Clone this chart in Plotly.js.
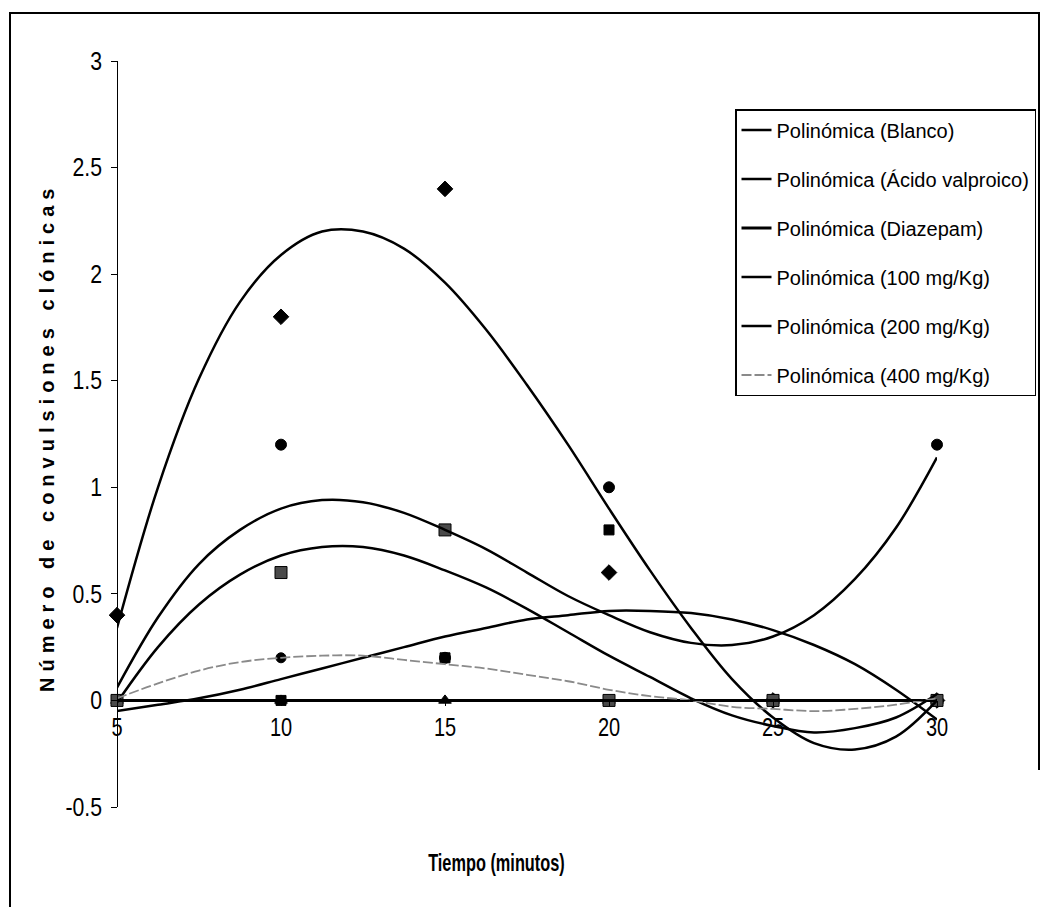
<!DOCTYPE html>
<html>
<head>
<meta charset="utf-8">
<script src="https://cdn.plot.ly/plotly-3.0.1.min.js"></script>
<style>
html, body { margin: 0; padding: 0; background: #ffffff; }
#chart { width: 1045px; height: 907px; }
</style>
</head>
<body>
<div id="chart"></div>
<script>
// ---- Data ----
const markerX = [5, 10, 15, 20, 25, 30];
const blancoPts = [0.4, 1.8, 2.4, 0.6, 0, 0];
const valproicoPts = [0, 0.6, 0.8, 0, 0, 0];
const diazepamPts = [0, 0, 0, 0, 0, 0];
const mg100Pts = [0, 1.2, 0.2, 1.0, 0, 1.2];
const mg200Pts = [0, 0, 0.2, 0.8, 0, 0];
const mg400Pts = [0, 0.2, 0.2, 0, 0, 0];

// trendline (Polinómica) values
const trendX = [5, 6.25, 7.5, 8.75, 10, 11.25, 12.5, 13.75, 15, 16.25, 17.5,
                18.75, 20, 21.25, 22.5, 23.75, 25, 26.25, 27.5, 28.75, 30];
const blancoFit = [0.34, 1.0, 1.51, 1.87, 2.09, 2.2, 2.2, 2.12, 1.96, 1.74, 1.48,
                   1.2, 0.9, 0.61, 0.34, 0.1, -0.08, -0.2, -0.23, -0.17, 0.0];
const valproicoFit = [-0.01, 0.25, 0.45, 0.59, 0.68, 0.72, 0.72, 0.68, 0.61, 0.53, 0.43,
                      0.32, 0.21, 0.11, 0.01, -0.07, -0.12, -0.15, -0.13, -0.08, 0.03];
const diazepamFit = [0, 0, 0, 0, 0, 0, 0, 0, 0, 0, 0, 0, 0, 0, 0, 0, 0, 0, 0, 0, 0];
const mg100Fit = [0.06, 0.39, 0.64, 0.8, 0.9, 0.94, 0.93, 0.88, 0.8, 0.71, 0.6,
                  0.49, 0.4, 0.32, 0.27, 0.26, 0.3, 0.4, 0.57, 0.81, 1.14];
const mg200Fit = [-0.05, -0.02, 0.01, 0.05, 0.1, 0.15, 0.2, 0.25, 0.3, 0.34, 0.38,
                  0.4, 0.42, 0.42, 0.41, 0.38, 0.33, 0.26, 0.17, 0.05, -0.09];
const mg400Fit = [0.01, 0.08, 0.14, 0.18, 0.2, 0.21, 0.21, 0.19, 0.17, 0.15, 0.12,
                  0.09, 0.05, 0.02, 0.0, -0.03, -0.04, -0.05, -0.04, -0.02, 0.01];

const legendNames = [
  'Polinómica (Blanco)',
  'Polinómica (Ácido valproico)',
  'Polinómica (Diazepam)',
  'Polinómica (100 mg/Kg)',
  'Polinómica (200 mg/Kg)',
  'Polinómica (400 mg/Kg)'
];
const yTickVals = [-0.5, 0, 0.5, 1, 1.5, 2, 2.5, 3];
const yTickText = ['-0.5', '0', '0.5', '1', '1.5', '2', '2.5', '3'];
const xTickVals = [5, 10, 15, 20, 25, 30];
const xTickText = ['5', '10', '15', '20', '25', '30'];

const sans = 'Liberation Sans, Arial, sans-serif';

function fitTrace(y, name, i, color, width, dash) {
  return {
    x: trendX, y: y, name: name, type: 'scatter', mode: 'lines',
    line: { color: color, width: width, shape: 'spline', smoothing: 1, dash: dash || 'solid' },
    legendgroup: 'g' + i, showlegend: true, cliponaxis: false, hoverinfo: 'skip'
  };
}
function ptsTrace(y, symbol, size, fill) {
  return {
    x: markerX, y: y, type: 'scatter', mode: 'markers', showlegend: false,
    cliponaxis: false, hoverinfo: 'skip',
    marker: { symbol: symbol, size: size, color: fill, line: { color: '#000', width: 1 } }
  };
}

const traces = [
  ptsTrace(blancoPts, 'diamond', 12, '#000'),
  ptsTrace(diazepamPts, 'triangle-up', 11, '#000'),
  ptsTrace(mg100Pts, 'circle', 11, '#000'),
  ptsTrace(mg400Pts, 'circle', 10, '#000'),
  ptsTrace(mg200Pts, 'square', 10, '#000'),
  ptsTrace(valproicoPts, 'square', 12, '#4a4a4a'),
  fitTrace(blancoFit, legendNames[0], 0, '#000', 2.5),
  fitTrace(valproicoFit, legendNames[1], 1, '#000', 2.5),
  fitTrace(diazepamFit, legendNames[2], 2, '#000', 3),
  fitTrace(mg100Fit, legendNames[3], 3, '#000', 2.5),
  fitTrace(mg200Fit, legendNames[4], 4, '#000', 2.5),
  fitTrace(mg400Fit, legendNames[5], 5, '#8a8a8a', 1.8, '10px,3px')
];

// plot area in pixels: x 117..937, y 61..807
const L = 117, R = 937, T = 61, B = 807;
const px = v => (v - L) / (R - L);
const py = v => (B - v) / (B - T);

const layout = {
  width: 1045, height: 907,
  margin: { l: L, r: 1045 - R, t: T, b: 907 - B, pad: 0, autoexpand: false },
  paper_bgcolor: '#fff', plot_bgcolor: '#fff',
  font: { family: sans, color: '#000', size: 20 },
  showlegend: true,
  xaxis: {
    range: [5, 30], tickvals: xTickVals, ticktext: xTickText,
    showgrid: false, zeroline: false, showline: true, linecolor: '#000', linewidth: 1,
    ticks: 'outside', ticklen: 5, tickcolor: '#000', tickwidth: 1,
    anchor: 'free', position: 0.5 / 3.5, ticklabelstandoff: 0,
    tickfont: { family: sans, size: 25, color: '#000' }
  },
  yaxis: {
    range: [-0.5, 3], tickvals: yTickVals, ticktext: yTickText,
    showgrid: false, zeroline: false, showline: true, linecolor: '#000', linewidth: 1,
    ticks: 'outside', ticklen: 6, tickcolor: '#000', tickwidth: 1,
    anchor: 'free', position: 0, ticklabelstandoff: 4,
    tickfont: { family: sans, size: 25, color: '#000' }
  },
  legend: {
    x: px(735), y: py(109), xanchor: 'left', yanchor: 'top',
    bgcolor: '#fff', bordercolor: '#000', borderwidth: 1.5,
    font: { family: sans, size: 20, color: '#000' },
    traceorder: 'grouped', tracegroupgap: 20, itemwidth: 30
  },
  annotations: [
    {
      text: 'Tiempo (minutos)', xref: 'paper', yref: 'paper',
      x: px(496), y: py(862), xanchor: 'center', yanchor: 'middle', showarrow: false,
      font: { family: sans, size: 24, color: '#000', weight: 'bold' }
    },
    {
      text: 'Número de convulsiones clónicas', xref: 'paper', yref: 'paper',
      x: px(47), y: py(438), xanchor: 'center', yanchor: 'middle', showarrow: false,
      textangle: -90,
      font: { family: sans, size: 20, color: '#000', weight: 'bold' }
    }
  ],
  shapes: [
    {
      type: 'path', xref: 'paper', yref: 'paper',
      path: 'M ' + px(10) + ' ' + py(907) + ' L ' + px(10) + ' ' + py(13) +
            ' L ' + px(1039) + ' ' + py(13) + ' L ' + px(1039) + ' ' + py(770),
      line: { color: '#000', width: 2 }
    }
  ]
};

// narrow the look of text (the original uses a condensed face)
function squeeze(el, sx, anchor) {
  const bb = el.getBBox();
  const cx = anchor === 'right' ? bb.x + bb.width : bb.x + bb.width / 2;
  const cy = bb.y + bb.height / 2;
  const t = el.getAttribute('transform') || '';
  el.setAttribute('transform', t + ' translate(' + cx + ',' + cy + ') scale(' + sx + ',1) translate(' + (-cx) + ',' + (-cy) + ')');
}

Plotly.newPlot('chart', traces, layout, { displayModeBar: false, staticPlot: true }).then(function () {
  document.querySelectorAll('.xtick text').forEach(function (el) { squeeze(el, 0.8, 'center'); });
  document.querySelectorAll('.ytick text').forEach(function (el) { squeeze(el, 0.85, 'right'); });
  document.querySelectorAll('.annotation-text').forEach(function (el) {
    if (el.textContent.indexOf('Número') === 0) {
      el.style.letterSpacing = '6px';
    } else if (el.textContent.indexOf('Tiempo') === 0) {
      squeeze(el, 0.68, 'center');
    }
  });
});
</script>
</body>
</html>
